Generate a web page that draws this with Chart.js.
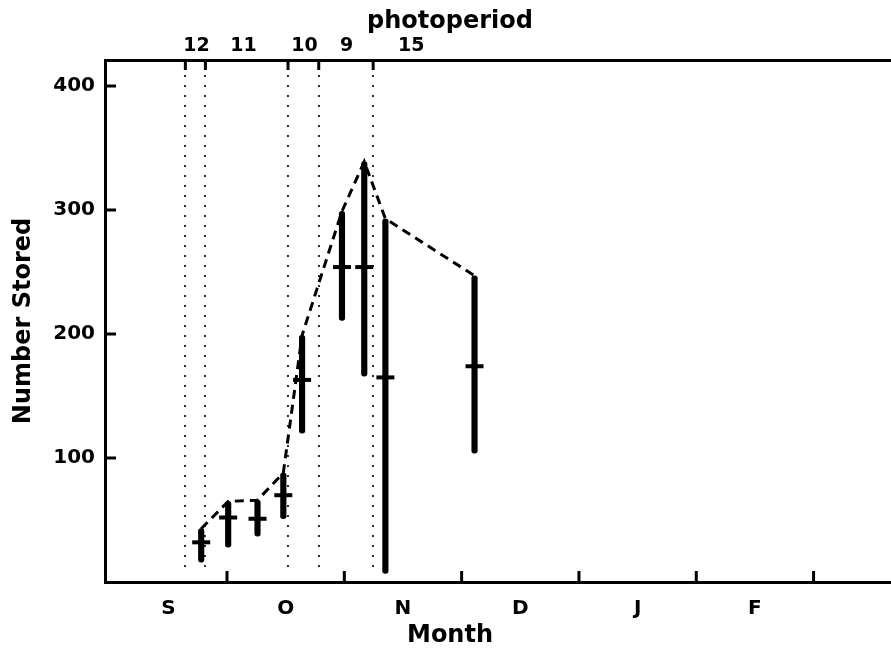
<!DOCTYPE html>
<html>
<head>
<meta charset="utf-8">
<title>Number stored by month</title>
<script src="https://cdn.jsdelivr.net/npm/chart.js@4/dist/chart.umd.min.js"></script>
<style>
    html, body { margin: 0; padding: 0; background: #fff; }
    canvas { display: block; }
</style>
</head>
<body>
<canvas id="storedChart" width="891" height="650"></canvas>
<script>
// ==========================================================================
// Data  (x is measured in months from 1 September: S = 0..1, O = 1..2, ...)
// ==========================================================================

const sampleDates = [0.78, 1.01, 1.26, 1.48, 1.64, 1.98, 2.17, 2.35, 3.11];
const meanStored  = [32, 52, 51, 70, 163, 254, 254, 165, 174];
const minStored   = [16, 28, 37, 51, 120, 211, 166, 7, 104];
const maxStored   = [43, 65, 66, 88, 199, 299, 339, 293, 247];

const monthLabels  = ['S', 'O', 'N', 'D', 'J', 'F'];
const monthCenters = [0.5, 1.5, 2.5, 3.5, 4.5, 5.5];
const monthBounds  = [1, 2, 3, 4, 5, 6];
const yTicks       = [100, 200, 300, 400];

const photoperiodLabels  = ['12', '11', '10', '9', '15'];
const photoperiodCenters = [0.74, 1.14, 1.66, 2.02, 2.57];
const photoperiodBreaks  = [0.645, 0.816, 1.52, 1.782, 2.246];

const FONT = "'DejaVu Sans', sans-serif";
const INK = '#000';

// inward tick marks on the frame + dotted photoperiod boundaries
const frameMarks = {
    id: 'frameMarks',
    beforeDatasetsDraw(chart) {
        const { ctx, chartArea, scales: { x, y } } = chart;
        ctx.save();
        ctx.strokeStyle = INK;

        // dotted boundaries
        ctx.lineWidth = 2.2;
        ctx.lineCap = 'round';
        ctx.setLineDash([0, 10]);
        photoperiodBreaks.forEach(v => {
            const px = Math.round(x.getPixelForValue(v));
            ctx.beginPath();
            ctx.moveTo(px, chartArea.top + 16);
            ctx.lineTo(px, chartArea.bottom - 6);
            ctx.stroke();
        });

        // short ticks
        ctx.setLineDash([]);
        ctx.lineCap = 'butt';
        ctx.lineWidth = 3;
        ctx.beginPath();
        monthBounds.forEach(v => {
            const px = x.getPixelForValue(v);
            ctx.moveTo(px, chartArea.bottom);
            ctx.lineTo(px, chartArea.bottom - 11);
        });
        yTicks.forEach(v => {
            const py = y.getPixelForValue(v);
            ctx.moveTo(chartArea.left, py);
            ctx.lineTo(chartArea.left + 11, py);
        });
        photoperiodBreaks.forEach(v => {
            const px = x.getPixelForValue(v);
            ctx.moveTo(px, chartArea.top);
            ctx.lineTo(px, chartArea.top + 10);
        });
        ctx.stroke();
        ctx.restore();
    }
};

// no extra label padding on the edges, chart area fixed by the sizes below
function noEdgePadding(scale) {
    scale.paddingLeft = 0;
    scale.paddingRight = 0;
    scale.paddingTop = 0;
    scale.paddingBottom = 0;
}

const xRange = { min: -0.04, max: 6.66 };
const noGrid = { display: false, drawTicks: false };

new Chart(document.getElementById('storedChart').getContext('2d'), {
    data: {
        datasets: [
            {
                type: 'line',
                label: 'Maximum',
                data: sampleDates.map((d, i) => ({ x: d, y: maxStored[i] })),
                borderColor: INK,
                borderWidth: 3,
                borderDash: [9, 6],
                pointRadius: 0,
                tension: 0,
                fill: false,
                order: 3
            },
            {
                type: 'bar',
                label: 'Range',
                data: sampleDates.map((d, i) => ({ x: d, y: [minStored[i], maxStored[i]] })),
                backgroundColor: INK,
                barThickness: 5.5,
                borderRadius: 3,
                borderSkipped: false,
                grouped: false,
                order: 2
            },
            {
                type: 'scatter',
                label: 'Mean',
                data: sampleDates.map((d, i) => ({ x: d, y: meanStored[i] })),
                pointStyle: 'line',
                pointRadius: 9,
                pointBorderWidth: 4,
                borderColor: INK,
                backgroundColor: INK,
                showLine: false,
                order: 1
            }
        ]
    },
    options: {
        responsive: false,
        animation: false,
        layout: { autoPadding: false, padding: { left: 9, right: 0, top: 0, bottom: 0 } },
        scales: {
            x: {
                type: 'linear',
                position: 'bottom',
                min: xRange.min,
                max: xRange.max,
                offset: false,
                grid: noGrid,
                border: { display: true, color: INK, width: 3 },
                afterBuildTicks: scale => { scale.ticks = monthCenters.map(v => ({ value: v })); },
                afterFit: scale => { scale.height = 39.2; noEdgePadding(scale); },
                ticks: {
                    autoSkip: false,
                    maxRotation: 0,
                    padding: 15,
                    color: INK,
                    font: { family: FONT, size: 20, weight: 'bold' },
                    callback: (v, i) => monthLabels[i]
                }
            },
            x2: {
                type: 'linear',
                position: 'top',
                min: xRange.min,
                max: xRange.max,
                offset: false,
                grid: noGrid,
                border: { display: true, color: INK, width: 3 },
                afterBuildTicks: scale => { scale.ticks = photoperiodCenters.map(v => ({ value: v })); },
                afterFit: scale => { scale.height = 23.6; noEdgePadding(scale); },
                ticks: {
                    autoSkip: false,
                    maxRotation: 0,
                    padding: 3,
                    color: INK,
                    font: { family: FONT, size: 19, weight: 'bold' },
                    callback: (v, i) => photoperiodLabels[i]
                }
            },
            y: {
                type: 'linear',
                min: 0,
                max: 421,
                grid: noGrid,
                border: { display: true, color: INK, width: 3 },
                afterBuildTicks: scale => { scale.ticks = yTicks.map(v => ({ value: v })); },
                afterFit: scale => { scale.width = 96; noEdgePadding(scale); },
                title: {
                    display: true,
                    text: 'Number Stored',
                    color: INK,
                    font: { family: FONT, size: 24, weight: 'bold' },
                    padding: { top: 0, bottom: 0 }
                },
                ticks: {
                    padding: 10,
                    color: INK,
                    font: { family: FONT, size: 20, weight: 'bold' }
                }
            }
        },
        plugins: {
            legend: { display: false },
            tooltip: { enabled: false },
            title: {
                display: true,
                text: 'photoperiod',
                color: INK,
                font: { family: FONT, size: 24, weight: 'bold' },
                padding: { top: 7.6, bottom: 0 }
            },
            subtitle: {
                display: true,
                position: 'bottom',
                text: 'Month',
                color: INK,
                font: { family: FONT, size: 24, weight: 'bold' },
                padding: { top: 0, bottom: 0 }
            }
        }
    },
    plugins: [frameMarks]
});
</script>
</body>
</html>
